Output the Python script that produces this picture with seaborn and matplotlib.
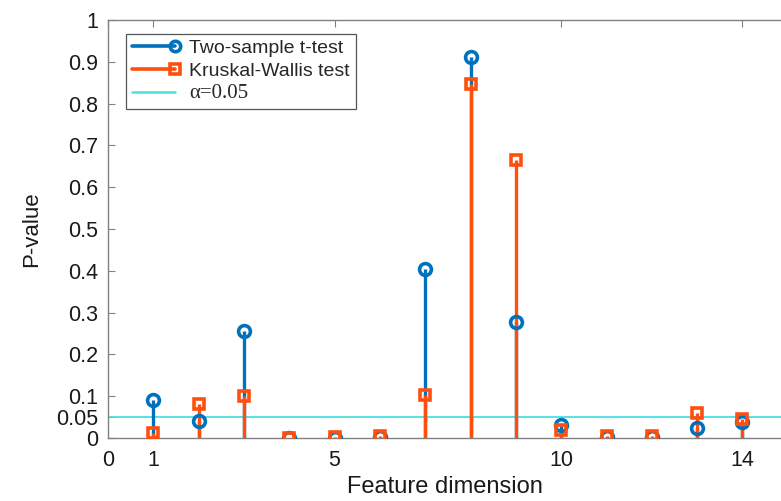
import numpy as np
import pandas as pd
import matplotlib
matplotlib.use("Agg")
import matplotlib.pyplot as plt
import seaborn as sns
from matplotlib.lines import Line2D
from matplotlib.legend_handler import HandlerLine2DCompound

# P-values per feature dimension
features = list(range(1, 15))
p_ttest = [0.091, 0.041, 0.256, 0.001, 0.001, 0.003, 0.404,
           0.911, 0.278, 0.031, 0.002, 0.002, 0.025, 0.039]
p_kruskal = [0.013, 0.081, 0.100, 0.001, 0.002, 0.005, 0.104,
             0.847, 0.666, 0.019, 0.004, 0.004, 0.059, 0.045]
alpha = 0.05

x_ticks = [0, 1, 5, 10, 14]
y_ticks = [0, 0.05, 0.1, 0.2, 0.3, 0.4, 0.5, 0.6, 0.7, 0.8, 0.9, 1]
y_ticklabels = ['0', '0.05', '0.1', '0.2', '0.3', '0.4', '0.5',
                '0.6', '0.7', '0.8', '0.9', '1']

BLUE = '#0072BD'
ORANGE = '#FF4F0F'
CYAN = '#48E0E0'

sns.set_style('white')
plt.rcParams['font.family'] = ['Liberation Sans', 'DejaVu Sans']

df = pd.DataFrame({'feature': features, 'ttest': p_ttest, 'kruskal': p_kruskal})


class EndMarkerHandler(HandlerLine2DCompound):
    '''
    Legend handler that puts the marker at the right end of the line (MATLAB style).
    '''
    def get_xdata(self, legend, xdescent, ydescent, width, height, fontsize):
        xdata, _ = super().get_xdata(legend, xdescent, ydescent, width, height, fontsize)
        return xdata, np.array([xdata[-1]])


fig = plt.figure(figsize=(7.81, 5.01), dpi=100)
ax = fig.add_axes([108 / 781, 1 - 438 / 501, 1 - 108 / 781, (438 - 20) / 501])

# Stems
ax.vlines(df.feature, 0, df.ttest, color=BLUE, lw=2.4, zorder=2)
ax.vlines(df.feature, 0, df.kruskal, color=ORANGE, lw=2.4, zorder=3)

# Hollow markers on top of stems
sns.lineplot(data=df, x='feature', y='ttest', ax=ax, linestyle='', marker='o',
             markersize=8.5, mfc='none', mec=BLUE, mew=2.6, color=BLUE, zorder=4)
sns.lineplot(data=df, x='feature', y='kruskal', ax=ax, linestyle='', marker='s',
             markersize=7.5, mfc='none', mec=ORANGE, mew=2.6, color=ORANGE, zorder=5)

# Significance threshold
ax.axhline(alpha, color=CYAN, lw=1.3, zorder=1)

ax.set_xlim(0, 14.85)
ax.set_ylim(0, 1)
ax.set_xticks(x_ticks)
ax.set_yticks(y_ticks)
ax.set_yticklabels(y_ticklabels)
ax.tick_params(axis='both', direction='in', length=5, width=0.8, color='#808080',
               labelsize=15.5, labelcolor='#1a1a1a', pad=7)
ax.tick_params(axis='x', pad=9)
ax.tick_params(top=True, bottom=False, left=True)
for side in ['left', 'top', 'bottom']:
    ax.spines[side].set_color('#808080')
    ax.spines[side].set_linewidth(1.0)
ax.spines['right'].set_visible(False)

ax.set_xlabel('Feature dimension', fontsize=17, color='#1a1a1a', labelpad=3)
ax.set_ylabel('P-value', fontsize=16, color='#1a1a1a', labelpad=10)

handles = [
    Line2D([], [], color=BLUE, lw=2.6, marker='o', markersize=7.5, mfc='none', mew=2.6),
    Line2D([], [], color=ORANGE, lw=2.6, marker='s', markersize=6.5, mfc='none', mew=2.6),
    Line2D([], [], color=CYAN, lw=1.8),
]
leg = ax.legend(handles, ['Two-sample t-test', 'Kruskal-Wallis test', 'α=0.05'],
                loc='upper left', bbox_to_anchor=(0.024, 0.972), fontsize=14,
                handler_map={Line2D: EndMarkerHandler()}, handlelength=2.2,
                handletextpad=0.75, borderpad=0.3, labelspacing=0.25,
                borderaxespad=0.1, fancybox=False, framealpha=1, edgecolor='#555555')
leg.get_frame().set_linewidth(0.9)
leg.get_texts()[2].set_family(['Liberation Serif', 'DejaVu Serif'])
leg.get_texts()[2].set_fontsize(15)

fig.savefig('out.png', dpi=100)
